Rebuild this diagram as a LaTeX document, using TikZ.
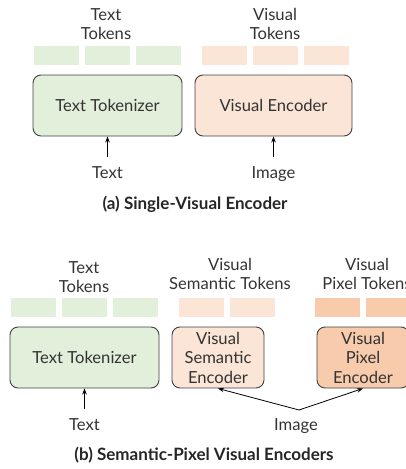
\documentclass[tikz,border=0pt]{standalone}
\usepackage{fontspec}
\setmainfont{Lato}
\usetikzlibrary{arrows.meta, positioning}

\definecolor{tokgreen}{HTML}{E2EFDA}
\definecolor{tokpeach}{HTML}{FBE5D6}
\definecolor{tokorange}{HTML}{F8CBAD}

\tikzset{
  %% Tokenizer / encoder box
  encbox/.style={
    rectangle, rounded corners=8pt,
    draw=black!75, fill=#1,
    minimum height=61pt, align=center,
    font=\fontsize{16.6}{19.5}\selectfont, text=black!80,
    inner sep=2pt, line width=0.9pt
  },
  encbox/.default=tokgreen,
  %% Token cell
  tok/.style={
    rectangle, fill=#1,
    minimum width=45pt, minimum height=19pt, inner sep=0pt
  },
  tok/.default=tokgreen,
  %% Plain labels
  lbl/.style={align=center, font=\fontsize{16.6}{19}\selectfont,
              text=black!80, inner sep=1pt},
  ttl/.style={font=\fontsize{17}{19}\selectfont\bfseries, text=black!85},
  %% Arrow
  arr/.style={-{Stealth[length=6pt,width=4.5pt]},
              draw=black, line width=0.8pt},
}

\begin{document}
\begin{tikzpicture}[x=1pt, y=-1pt, node distance=6pt]
  \useasboundingbox (0,0) rectangle (406,469);

  %% (a) one visual encoder
  \node[encbox=tokgreen, minimum width=149pt] (tok) at (107.5,105.5)
       {Text Tokenizer};
  \node[encbox=tokpeach, minimum width=157pt] (venc) at (273.5,105.5)
       {Visual Encoder};

  \node[tok=tokgreen] (tt2) at (107.5,55.5) {};
  \node[tok=tokgreen, left=of tt2]  (tt1) {};
  \node[tok=tokgreen, right=of tt2] (tt3) {};
  \node[tok=tokpeach] (vt2) at (275.5,55.5) {};
  \node[tok=tokpeach, left=of vt2]  (vt1) {};
  \node[tok=tokpeach, right=of vt2] (vt3) {};

  \node[lbl] (ttlab) at (106,23.8) {Text\\Tokens};
  \node[lbl] (vtlab) at (275,23.8) {Visual\\Tokens};

  \node[lbl, anchor=base] (txt) at (107.5,178) {Text};
  \node[lbl, anchor=base] (img) at (273.5,178) {Image};

  \draw[arr] ([yshift=8pt]txt.north) -- (tok.south);
  \draw[arr] ([yshift=8pt]img.north) -- (venc.south);

  \node[ttl, anchor=base] (tla) at (195,209) {(a) Single-Visual Encoder};

  %% (b) semantic and pixel encoders
  \node[encbox=tokgreen, minimum width=149pt] (tok2) at (84.5,357.5)
       {Text Tokenizer};
  \node[encbox=tokpeach, minimum width=92pt] (senc) at (218,357.5)
       {Visual\\Semantic\\Encoder};
  \node[encbox=tokorange, minimum width=92pt] (penc) at (363,357.5)
       {Visual\\Pixel\\Encoder};

  \node[tok=tokgreen] (bt2) at (84.5,307.5) {};
  \node[tok=tokgreen, left=of bt2]  (bt1) {};
  \node[tok=tokgreen, right=of bt2] (bt3) {};
  \node[tok=tokpeach] (st1) at (201.5,307.5) {};
  \node[tok=tokpeach, right=of st1] (st2) {};
  \node[tok=tokorange] (pt1) at (337.5,307.5) {};
  \node[tok=tokorange, right=of pt1] (pt2) {};

  \node[lbl] (btlab) at (84,277.5) {Text\\Tokens};
  \node[lbl] (stlab) at (230,273.5) {Visual\\Semantic Tokens};
  \node[lbl] (ptlab) at (367,273.5) {Visual\\Pixel Tokens};

  \node[lbl, anchor=base] (txt2) at (84.5,430.5) {Text};
  \node[lbl, anchor=base] (img2) at (296,430.5) {Image};
  \coordinate (split) at (299,410);

  \draw[arr] ([yshift=8pt]txt2.north) -- (tok2.south);
  \draw[arr] (split) -- (senc.south);
  \draw[arr] (split) -- (penc.south);

  \node[ttl, anchor=base] (tlb) at (204,460.5)
       {(b) Semantic-Pixel Visual Encoders};

\end{tikzpicture}
\end{document}
